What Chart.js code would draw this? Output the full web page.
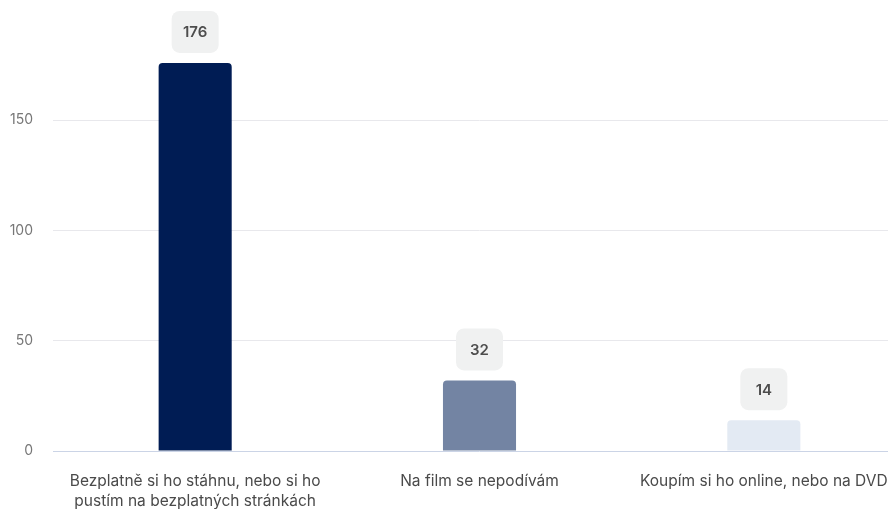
<!DOCTYPE html>
<html>
<head>
<meta charset="utf-8">
<script src="https://cdn.jsdelivr.net/npm/chart.js@4"></script>
<style>
  html, body { margin: 0; padding: 0; background: #fff; overflow: hidden; }
  #wrap { width: 906px; height: 511px; }
</style>
</head>
<body>
<div id="wrap"><canvas id="answersChart"></canvas></div>
<script>
const labels = [
    ['Bezplatně si ho stáhnu, nebo si ho', 'pustím na bezplatných stránkách'],
    'Na film se nepodívám',
    'Koupím si ho online, nebo na DVD'
];
const counts = [176, 32, 14];
const barColors = ['#001c54', '#7384a3', '#e3eaf3'];
const yTicks = [0, 50, 100, 150];

// rounded grey boxes with the count above every bar
const valueBoxes = {
    id: 'valueBoxes',
    afterDatasetsDraw(chart) {
        const ctx = chart.ctx;
        const meta = chart.getDatasetMeta(0);
        ctx.save();
        meta.data.forEach((bar, i) => {
            const w = 47, h = 42;
            const x = bar.x - w / 2;
            const y = bar.y - 10 - h;
            ctx.fillStyle = '#f0f1f1';
            ctx.beginPath();
            ctx.roundRect(x, y, w, h, 8);
            ctx.fill();
            ctx.fillStyle = '#4d4d4d';
            ctx.font = '600 15px Inter';
            ctx.textAlign = 'center';
            ctx.textBaseline = 'middle';
            ctx.fillText(String(counts[i]), bar.x, y + h / 2 + 1);
        });
        ctx.restore();
    }
};

const ctx = document.getElementById('answersChart').getContext('2d');

const answersChart = new Chart(ctx, {
    type: 'bar',
    data: {
        labels: labels,
        datasets: [{
            data: counts,
            backgroundColor: barColors,
            borderRadius: { topLeft: 4, topRight: 4 },
            borderSkipped: 'bottom',
            categoryPercentage: 1,
            barPercentage: 0.257
        }]
    },
    options: {
        responsive: true,
        maintainAspectRatio: false,
        animation: false,
        layout: { padding: { top: 10, left: 0, right: 0, bottom: 0 } },
        plugins: {
            legend: { display: false },
            tooltip: { enabled: false }
        },
        scales: {
            x: {
                afterFit(axis) {
                    axis.paddingLeft = 0;
                    axis.paddingRight = 0;
                    axis.height = 60;
                },
                grid: { display: false, drawTicks: false },
                border: { display: false },
                ticks: {
                    color: '#4a4a4a',
                    padding: 21,
                    maxRotation: 0,
                    autoSkip: false,
                    font: { family: 'Inter', size: 15.5, lineHeight: 1.27 }
                }
            },
            y: {
                min: 0,
                max: 200,
                afterBuildTicks(axis) {
                    axis.ticks = yTicks.map(v => ({ value: v }));
                },
                afterFit(axis) {
                    axis.width = 53;
                    axis.paddingTop = 0;
                    axis.paddingBottom = 0;
                },
                border: { display: false },
                grid: {
                    drawTicks: false,
                    color: c => c.tick && c.tick.value === 0 ? '#cbd4e6' : '#e8e8ec'
                },
                ticks: {
                    color: '#777',
                    padding: 20,
                    font: { family: 'Inter', size: 14 }
                }
            }
        }
    },
    plugins: [valueBoxes]
});
</script>
</body>
</html>
